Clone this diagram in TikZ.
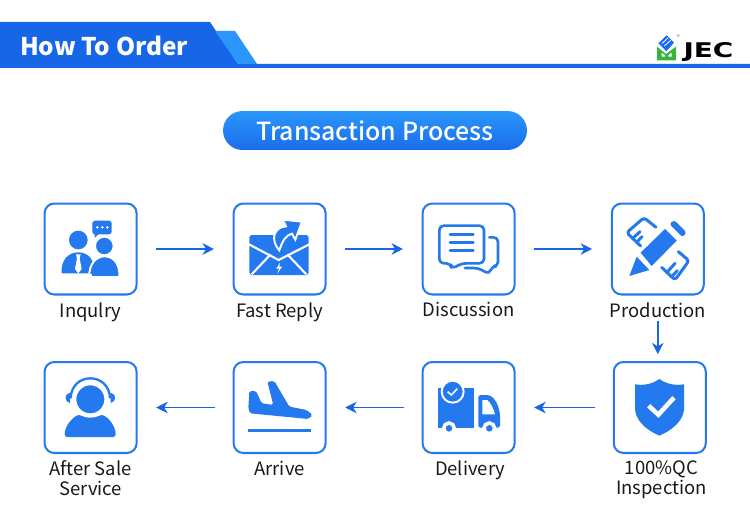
\documentclass[tikz,border=0pt]{standalone}
\usepackage{fontspec}
\setmainfont{Noto Sans CJK SC}
\newfontfamily\titlefont{Noto Sans CJK SC Medium}
\newfontfamily\logofont[FakeStretch=1.38]{DejaVu Sans Bold}
\usetikzlibrary{positioning,arrows.meta,shapes.misc}
\definecolor{jecblue}{HTML}{1766E8}
\definecolor{jecsky}{HTML}{2A96FB}
\definecolor{iconblue}{HTML}{2479EE}
\definecolor{jecgreen}{HTML}{35B53A}
\tikzset{
  stepbox/.style={draw=iconblue, line width=1.15pt, rounded corners=5.5pt, fill=white,
    minimum width=1.84cm, minimum height=1.82cm, inner sep=0pt},
  steplabel/.style={font=\fontsize{10.5}{11.3}\selectfont, align=center, inner sep=0pt, text=black!90},
  flow/.style={draw=jecblue, line width=0.85pt, -{Stealth[length=6.5pt,width=6.5pt,inset=2pt]},
    shorten <=10.3pt, shorten >=10.6pt},
  zoomA/.style={shift={(#1)}, scale=1/3},
  ico/.style={fill=iconblue, draw=none},
  cut/.style={draw=white, line width=1.1pt},
  icoline/.style={draw=iconblue, line width=1.5pt, line cap=round, line join=round}
}
\begin{document}
\begin{tikzpicture}[x=0.02cm, y=-0.02cm]
  \useasboundingbox (0,0) rectangle (750,517);
  % header
  \fill[jecblue] (0,22) -- (210,22) -- (238,64) -- (750,64) -- (750,68) -- (0,68) -- cycle;
  \fill[jecsky] (215,31) -- (235,31) -- (257,64) -- (238,64) -- cycle;
  \node[font=\fontsize{13.85}{16}\selectfont\bfseries, text=white, inner sep=0pt] (headline) at (104,46) {How To Order};
  % logo
  \begin{scope}[zoomA={650,30}]
    \fill[jecgreen] (21,50) -- (48,72) -- (78,50) -- (78,91) -- (21,91) -- cycle;
    \fill[white] (35,68) -- (45,76) -- (45,80) -- (35,80) -- cycle (65,68) -- (55,76) -- (55,80) -- (65,80) -- cycle;
    \fill[jecsky!70!blue] (25,40) -- (50,16) -- (72,38) -- (49,64) -- cycle;
    \draw[white, line width=0.45pt] (36,40) -- (54,24) (43,48) -- (62,31);
    \node[font=\fontsize{3.4}{4}\selectfont, text=black!60, inner sep=0pt] (regmark) at (85,21) {®};
  \end{scope}
  \node[font=\logofont\fontsize{11.5}{13}\selectfont, text=black, inner sep=0pt] (jec) at (708.5,52) {JEC};
  % title pill
  \node[rounded rectangle, minimum width=6.08cm, minimum height=0.78cm, inner sep=0pt,
    top color=jecsky, bottom color=jecblue!85!jecsky, text=white,
    font=\titlefont\fontsize{14.2}{17}\selectfont] (title) at (375,130.5) {\raisebox{-0.5pt}{Transaction Process}};
  % step boxes
  \node[stepbox] (inqbox)  at (90.6,249) {};
  \node[stepbox] (replybox) at (279.6,249) {};
  \node[stepbox] (discbox) at (468.6,249) {};
  \node[stepbox] (prodbox) at (657.8,249) {};
  \node[stepbox] (qcbox)   at (659.8,407.5) {};
  \node[stepbox] (delibox) at (468.6,407.5) {};
  \node[stepbox] (arribox) at (279.6,407.5) {};
  \node[stepbox] (salebox) at (90.6,407.5) {};
  % labels
  \node[steplabel, below=3.7pt of inqbox] (inqlabel) {Inqulry};
  \node[steplabel, below=3.7pt of replybox] (replylabel) {Fast Reply};
  \node[steplabel, below=3.7pt of discbox] (disclabel) {Discussion};
  \node[steplabel, below=3.7pt of prodbox] (prodlabel) {Production};
  \node[steplabel, below=3.7pt of qcbox, xshift=1pt] (qclabel) {100\%QC\\Inspection};
  \node[steplabel, below=3.7pt of delibox, xshift=0.9pt] (delilabel) {Delivery};
  \node[steplabel, below=3.7pt of arribox] (arrilabel) {Arrive};
  \node[steplabel, below=3.7pt of salebox] (salelabel) {After Sale\\Service};
  % connectors
  \draw[flow] (inqbox) -- (replybox);
  \draw[flow] (replybox) -- (discbox);
  \draw[flow] (discbox) -- (prodbox);
  \draw[flow, shorten <=2pt, shorten >=3.8pt] (prodlabel.south) -- (prodlabel.south |- qcbox.north);
  \draw[flow] (qcbox) -- (delibox);
  \draw[flow] (delibox) -- (arribox);
  \draw[flow] (arribox) -- (salebox);
  % icons, first row left
  \begin{scope}[zoomA={30,195}]
    \fill[ico] (95,235) .. controls (92,195) and (115,172) .. (145,172) .. controls (175,172) and (195,195) .. (195,235) -- cycle;
    \fill[ico] (145,135) circle (28);
    \fill[white] (138,178) -- (152,178) -- (149,190) -- (155,222) -- (145,235) -- (135,222) -- (141,190) -- cycle;
    \fill[ico, rounded corners=1.5pt] (187,77) rectangle (245,118);
    \fill[ico] (193,115) -- (195,128) -- (208,115) -- cycle;
    \foreach \dotx in {202,217,232} \fill[white] (\dotx,97) circle (4);
    \filldraw[ico, cut] (223,153) circle (28);
    \filldraw[ico, cut] (178,246) .. controls (176,205) and (200,184) .. (224,184) .. controls (250,184) and (270,205) .. (268,246) -- cycle;
    \fill[white] (170,236) rectangle (185,250);
    % envelope
    \fill[ico, rounded corners=1.5pt] (658,120) rectangle (836,240);
    \draw[white, line width=1.2pt] (655,147) -- (746,195) -- (840,147) (665,238) -- (722,178) (829,238) -- (772,178);
    \fill[white] (750,203) -- (739,221) -- (747,221) -- (742,236) -- (756,215) -- (748,215) -- cycle;
    \filldraw[ico, cut] (748,166) .. controls (718,132) and (734,96) .. (768,94) -- (758,74) -- (816,80) -- (796,134) -- (786,116) .. controls (768,120) and (757,138) .. (748,166) -- cycle;
  \end{scope}
  % icons, first row right
  \begin{scope}[zoomA={410,195}]
    \draw[icoline, rounded corners=2.5pt] (122,205) -- (88,205) -- (88,92) -- (222,92) -- (222,205) -- (155,205) -- (125,222) -- cycle;
    \draw[icoline] (120,118) -- (190,118) (120,142) -- (190,142) (120,166) -- (190,166);
    \draw[icoline, rounded corners=2.5pt] (238,127) -- (264,127) -- (264,214) -- (245,214) -- (238,238) -- (205,219) -- (165,219);
  \end{scope}
  \begin{scope}[zoomA={620,210}, icoline/.append style={line width=1.7pt}]
    \draw[icoline, rounded corners=1.6pt] (108,52) -- (72,23) -- (20,68) -- (62,108);
    \draw[icoline] (38,85) -- (60,65) (50,97) -- (66,80);
    \draw[icoline, rounded corners=1.6pt] (175,125) -- (207,152) -- (165,210) -- (125,172);
    \draw[icoline] (140,188) -- (165,160) (155,200) -- (172,182);
    \fill[ico] (62,128) -- (135,57) -- (170,92) -- (95,168) -- cycle;
    \fill[ico, rounded corners=1.6pt] (148,42) -- (162,30) -- (200,68) -- (188,82) -- cycle;
    \fill[ico] (50,140) -- (88,180) -- (28,198) -- cycle;
  \end{scope}
  % icons, second row left
  \begin{scope}[zoomA={52,370}]
    \draw[iconblue, line width=1.3pt] (56,85) .. controls (58,5) and (172,5) .. (174,85);
    \fill[ico] (54,68) .. controls (36,72) and (36,95) .. (54,99) -- cycle;
    \fill[ico] (176,68) .. controls (194,72) and (194,95) .. (176,99) -- cycle;
    \filldraw[ico, cut] (115,88) circle (45);
    \fill[ico, rounded corners=1.5pt] (38,201) .. controls (38,170) and (58,145) .. (82,133) .. controls (100,145) and (130,145) .. (148,133) .. controls (172,145) and (191,170) .. (191,201) -- cycle;
  \end{scope}
  \begin{scope}[zoomA={30,355}]
    % plane
    \fill[ico, rounded corners=1pt] (658,108) -- (678,108) -- (695,145) -- (730,150) -- (712,80) -- (733,78) -- (778,155) -- (830,165) -- (848,180) -- (835,192) -- (660,175) -- (655,160) -- cycle;
    \draw[iconblue, line width=1.7pt] (655,226) -- (843,226);
  \end{scope}
  % icons, second row right
  \begin{scope}[zoomA={410,355}]
    \fill[ico] (85,100) rectangle (192,218);
    \fill[ico, rounded corners=1pt] (205,120) -- (235,120) .. controls (255,128) and (265,150) .. (270,178) -- (270,218) -- (205,218) -- cycle;
    \fill[white] (217,135) -- (232,135) .. controls (243,145) and (250,160) .. (255,178) -- (217,178) -- cycle;
    \filldraw[ico, cut] (128,110) circle (33);
    \draw[white, line width=0.9pt] (113,110) -- (124,120) -- (142,101);
    \filldraw[ico, draw=white, line width=2pt] (117,220) circle (16);
    \filldraw[ico, draw=white, line width=2pt] (238,220) circle (16);
    % shield
    \fill[ico] (748,72) .. controls (725,88) and (700,92) .. (675,88) -- (675,165) .. controls (680,205) and (720,230) .. (748,242) .. controls (776,230) and (817,205) .. (822,165) -- (822,88) .. controls (796,92) and (771,88) .. (748,72) -- cycle;
    \draw[white, line width=2.6pt] (716,152) -- (745,179) -- (792,128);
  \end{scope}
\end{tikzpicture}
\end{document}
